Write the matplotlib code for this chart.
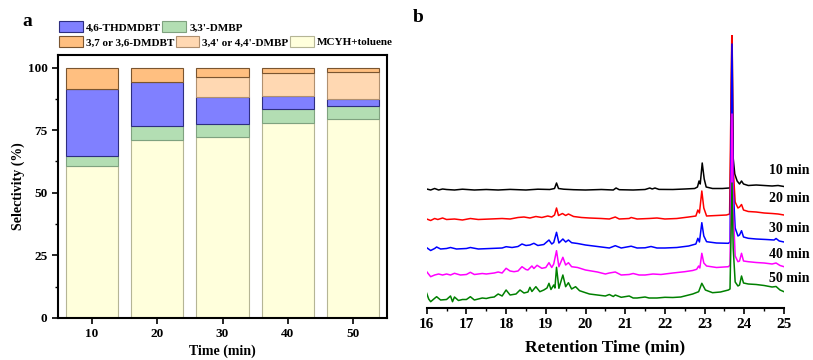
import matplotlib
matplotlib.use("Agg")
import matplotlib.pyplot as plt
from matplotlib.patches import Patch
from matplotlib.ticker import MultipleLocator

plt.rcParams['font.family'] = ['Liberation Serif', 'DejaVu Serif']
plt.rcParams['font.weight'] = 'bold'

# ---------------- panel a data ----------------
times = [10, 20, 30, 40, 50]
mcyh = [60.5, 71.0, 72.3, 77.8, 79.4]
dmbp33 = [4.3, 5.5, 5.0, 5.6, 5.4]
thdmdbt = [26.6, 17.8, 11.1, 5.2, 2.6]
dmbp34 = [0.0, 0.0, 8.0, 9.1, 10.7]
dmdbt37 = [8.6, 5.7, 3.6, 2.3, 1.9]

# ---------------- panel b data (retention time, signal) ----------------
t10 = [16.0, 16.1, 16.2, 16.3, 16.4, 16.5, 16.7, 16.9, 17.2, 17.5, 17.8, 18.1, 18.5, 18.8, 19.1, 19.22, 19.27, 19.32,
       19.45, 19.7, 20.0, 20.4, 20.7, 20.77, 20.85, 21.2, 21.5, 21.62, 21.68, 21.75, 21.85, 22.2, 22.5, 22.75, 22.82,
       22.86, 22.89, 22.94, 22.99, 23.04, 23.2, 23.45, 23.62, 23.65, 23.69, 23.72, 23.76, 23.82, 23.88, 23.93, 23.98,
       24.1, 24.3, 24.5, 24.7, 24.85, 25.0]
s10 = [119, 118, 119.5, 118, 119, 118.5, 118, 118.8, 118, 118.5, 118, 118.6, 118, 118.8, 118.5, 119.5, 125, 119.5,
       118.8, 118.3, 118, 118.5, 118, 120, 118.3, 118, 118.5, 120, 119, 120, 118.6, 118.5, 119, 119.5, 121,
       127, 124, 145, 129, 121, 119.5, 119.5, 120, 121, 280, 150, 134, 127, 124, 127, 124,
       122.5, 123, 122.5, 122, 122.5, 121.5]

t20 = [16.0, 16.1, 16.2, 16.28, 16.4, 16.5, 16.7, 16.9, 17.1, 17.3, 17.6, 17.9, 18.1, 18.3, 18.45, 18.6, 18.75, 18.9,
       19.05, 19.15, 19.22, 19.27, 19.32, 19.42, 19.5, 19.57, 19.7, 19.9, 20.1, 20.4, 20.6, 20.75, 20.85, 21.1, 21.15,
       21.3, 21.6, 21.8, 22.0, 22.3, 22.6, 22.78, 22.83, 22.87, 22.93, 22.98, 23.05, 23.3, 23.55, 23.63, 23.69, 23.72,
       23.77, 23.84, 23.88, 23.93, 23.98, 24.1, 24.3, 24.5, 24.7, 24.85, 25.0]
s20 = [89, 87.5, 89.5, 88.5, 90, 88.5, 89, 88, 89.5, 88.5, 89, 89.5, 89, 90.5, 91, 90, 91.5, 90.5,
       92, 91, 93, 100, 92.5, 94.5, 92.5, 94, 91.5, 90.5, 90, 89.5, 89, 91, 89, 89.5, 90.5,
       89, 89.5, 90, 89, 89.5, 91, 92, 98, 95, 117, 100, 92, 92.5, 93, 94, 290, 140,
       106, 100, 101, 103.5, 98, 96.5, 96, 95, 94.5, 94, 93]

t30 = [16.0, 16.1, 16.2, 16.25, 16.35, 16.5, 16.6, 16.75, 17.0, 17.1, 17.3, 17.6, 17.9, 18.0, 18.15, 18.3, 18.4, 18.5,
       18.6, 18.7, 18.8, 18.95, 19.08, 19.15, 19.2, 19.27, 19.33, 19.43, 19.5, 19.57, 19.65, 19.8, 20.0, 20.2, 20.4,
       20.6, 20.75, 20.9, 21.15, 21.3, 21.5, 21.65, 21.8, 22.0, 22.3, 22.6, 22.78, 22.83, 22.87, 22.93, 22.98, 23.05,
       23.3, 23.6, 23.64, 23.69, 23.72, 23.77, 23.84, 23.88, 23.93, 23.98, 24.1, 24.3, 24.55, 24.75, 24.8, 24.88, 25.0]
s30 = [60.3, 57.5, 59.5, 61, 59, 59.5, 60.5, 59, 59.5, 60.5, 59, 59.5, 60, 61.3, 60.5, 61.5, 64, 62.5,
       63, 64.7, 62.5, 63.5, 68, 64, 65.5, 75.7, 65, 69, 66, 68, 65.3, 64.5, 63, 62, 61,
       60, 62.3, 60, 61.8, 60, 60.2, 61.5, 60, 60, 60.5, 62, 64, 69.7, 66, 85.3, 72, 66.3,
       65, 64.7, 66, 264, 120, 80, 72, 73, 77.3, 71, 69.7, 69, 68.5, 68, 69.5, 67, 66]

t40 = [16.0, 16.1, 16.2, 16.3, 16.4, 16.5, 16.6, 16.7, 16.85, 17.0, 17.1, 17.2, 17.4, 17.5, 17.7, 17.8, 17.9, 18.0,
       18.1, 18.2, 18.3, 18.4, 18.5, 18.55, 18.65, 18.7, 18.78, 18.9, 19.0, 19.08, 19.15, 19.2, 19.27, 19.33, 19.43,
       19.5, 19.57, 19.65, 19.8, 20.0, 20.15, 20.3, 20.5, 20.6, 20.75, 20.9, 21.1, 21.2, 21.35, 21.5, 21.7, 21.9,
       22.0, 22.2, 22.5, 22.7, 22.8, 22.85, 22.88, 22.93, 22.98, 23.05, 23.3, 23.6, 23.64, 23.69, 23.72, 23.77,
       23.84, 23.88, 23.93, 23.98, 24.1, 24.3, 24.5, 24.7, 24.8, 24.9, 25.0]
s40 = [36.3, 31.3, 33, 34, 33, 34, 33, 34.7, 33, 33.5, 35.7, 33.5, 34.5, 34, 35, 36, 35, 39.7,
       37, 36.3, 37, 41.3, 38.5, 38, 42, 39.5, 42.7, 39.7, 40.5, 45.3, 40.5, 44, 57.3, 41.3, 50.7,
       43, 45.3, 41.3, 40.5, 38, 37, 36, 34, 35, 36, 33, 33.5, 34.5, 33, 33, 34, 33.5,
       34, 35, 36.3, 37.5, 38.7, 42, 40, 54.7, 45, 42, 40.5, 41.3, 43, 194, 100, 52,
       46.3, 47, 54.7, 47, 46.3, 45.5, 45, 44, 45, 42.5, 41.3]

t50 = [16.0, 16.05, 16.1, 16.2, 16.25, 16.35, 16.5, 16.6, 16.65, 16.7, 16.8, 16.9, 17.0, 17.1, 17.2, 17.3, 17.4,
       17.5, 17.6, 17.7, 17.8, 17.9, 18.0, 18.1, 18.25, 18.35, 18.45, 18.55, 18.6, 18.65, 18.75, 18.85, 18.95, 19.03,
       19.08, 19.13, 19.2, 19.23, 19.27, 19.33, 19.43, 19.5, 19.57, 19.65, 19.75, 19.85, 20.0, 20.1, 20.3, 20.5,
       20.6, 20.7, 20.75, 20.9, 21.1, 21.2, 21.3, 21.5, 21.6, 21.8, 22.0, 22.2, 22.4, 22.5, 22.7, 22.85, 22.93,
       23.02, 23.2, 23.4, 23.6, 23.64, 23.69, 23.72, 23.77, 23.84, 23.88, 23.93, 23.98, 24.1, 24.3, 24.5, 24.7,
       24.8, 24.9, 25.0]
s50 = [14.7, 9, 6.3, 9.7, 11.3, 8, 8.5, 12, 6.3, 11, 7.5, 8.5, 8.5, 11.3, 8, 9, 10,
       9.5, 10.5, 11, 14, 12, 18, 13, 14, 18, 15, 16, 20.7, 16.5, 21.3, 16.3, 18, 20,
       24.7, 18.5, 23, 20, 40.7, 19.7, 33, 21.3, 25.3, 19, 21.3, 17.3, 15.3, 14, 13, 12,
       13.5, 11.5, 13, 10.7, 12, 10, 10, 11, 10, 10, 10.7, 10.5, 11, 12, 14, 16.3, 24.7,
       18, 15.3, 16, 18, 19, 125, 60, 26, 22, 23, 32, 25, 24, 23.5, 22.5, 21,
       21.5, 18, 16.3]

trace_labels = ['10 min', '20 min', '30 min', '40 min', '50 min']

# ---------------- figure ----------------
fig = plt.figure(figsize=(8.13, 3.6), dpi=100)

# panel a
axa = fig.add_axes([58/813, 1-318/360, (387-58)/813, (318-55)/360])
layers = [
    (mcyh, '#FFFFDC', '#B5B595', 'MCYH+toluene'),
    (dmbp33, '#B3DEB3', '#7FA27F', "3,3'-DMBP"),
    (thdmdbt, '#8080FF', '#2E2E80', '4,6-THDMDBT'),
    (dmbp34, '#FFD8B2', '#B09070', "3,4' or 4,4'-DMBP"),
    (dmdbt37, '#FFBF80', '#7A5530', '3,7 or 3,6-DMDBT'),
]
bottom = [0.0] * len(times)
handles = {}
for vals, fc, ec, lab in layers:
    axa.bar(times, vals, width=8, bottom=bottom, color=fc, edgecolor=ec, linewidth=0.8, label=lab)
    handles[lab] = Patch(facecolor=fc, edgecolor=ec, linewidth=0.8)
    bottom = [b + v for b, v in zip(bottom, vals)]

axa.set_xlim(4.8, 55.2)
axa.set_ylim(0, 105)
axa.set_xticks(times)
axa.yaxis.set_major_locator(MultipleLocator(25))
axa.yaxis.set_minor_locator(MultipleLocator(12.5))
for sp in axa.spines.values():
    sp.set_linewidth(1.5)
axa.tick_params(axis='both', which='major', direction='out', length=4, width=1.2, labelsize=9.5)
axa.tick_params(axis='y', which='minor', direction='out', length=2.5, width=1.0)
axa.set_xlabel('Time (min)', fontsize=10, fontweight='bold', labelpad=3)
axa.set_ylabel('Selectivity (%)', fontsize=10, fontweight='bold', labelpad=2)
for lab in axa.get_xticklabels() + axa.get_yticklabels():
    lab.set_fontweight('bold')

row1 = ['4,6-THDMDBT', "3,3'-DMBP"]
row2 = ['3,7 or 3,6-DMDBT', "3,4' or 4,4'-DMBP", 'MCYH+toluene']
leg_kw = dict(frameon=False, handlelength=2.15, handleheight=1.17, handletextpad=0.27,
              columnspacing=0.12, borderpad=0, borderaxespad=0, loc='upper left',
              prop={'weight': 'bold', 'size': 8})
fig.legend([handles[k] for k in row1], row1, ncol=2, bbox_to_anchor=(59/813, 1-21/360), **leg_kw)
fig.legend([handles[k] for k in row2], row2, ncol=3, bbox_to_anchor=(59/813, 1-36/360), **leg_kw)

fig.text(22/813, 1-22/360, 'a', fontsize=14, fontweight='bold', va='center')

# panel b
axb = fig.add_axes([426.7/813, 1-308/360, (784-426.7)/813, (308-35)/360])
colors = ['black', 'red', 'blue', 'magenta', 'green']
for t, s, c in zip([t10, t20, t30, t40, t50], [s10, s20, s30, s40, s50], colors):
    axb.plot(t, s, color=c, linewidth=1.1)
axb.set_xlim(16, 25)
axb.set_ylim(0, 273)
for side in ['left', 'right', 'top']:
    axb.spines[side].set_visible(False)
axb.spines['bottom'].set_linewidth(1.5)
axb.set_yticks([])
axb.xaxis.set_major_locator(MultipleLocator(1))
axb.xaxis.set_minor_locator(MultipleLocator(0.5))
axb.tick_params(axis='x', which='major', direction='out', length=4, width=1.2, labelsize=11)
axb.tick_params(axis='x', which='minor', direction='out', length=2.5, width=1.0)
for lab in axb.get_xticklabels():
    lab.set_fontweight('bold')
axb.set_xlabel('Retention Time (min)', fontsize=12.5, fontweight='bold', labelpad=6)

label_y = [170, 199, 228, 255, 278]
for lab, yp in zip(trace_labels, label_y):
    fig.text(769/813, 1-yp/360, lab, fontsize=10, fontweight='bold', va='center', ha='left')

fig.text(413/813, 1-18/360, 'b', fontsize=14, fontweight='bold', va='center')

fig.savefig('out.png', dpi=100)
